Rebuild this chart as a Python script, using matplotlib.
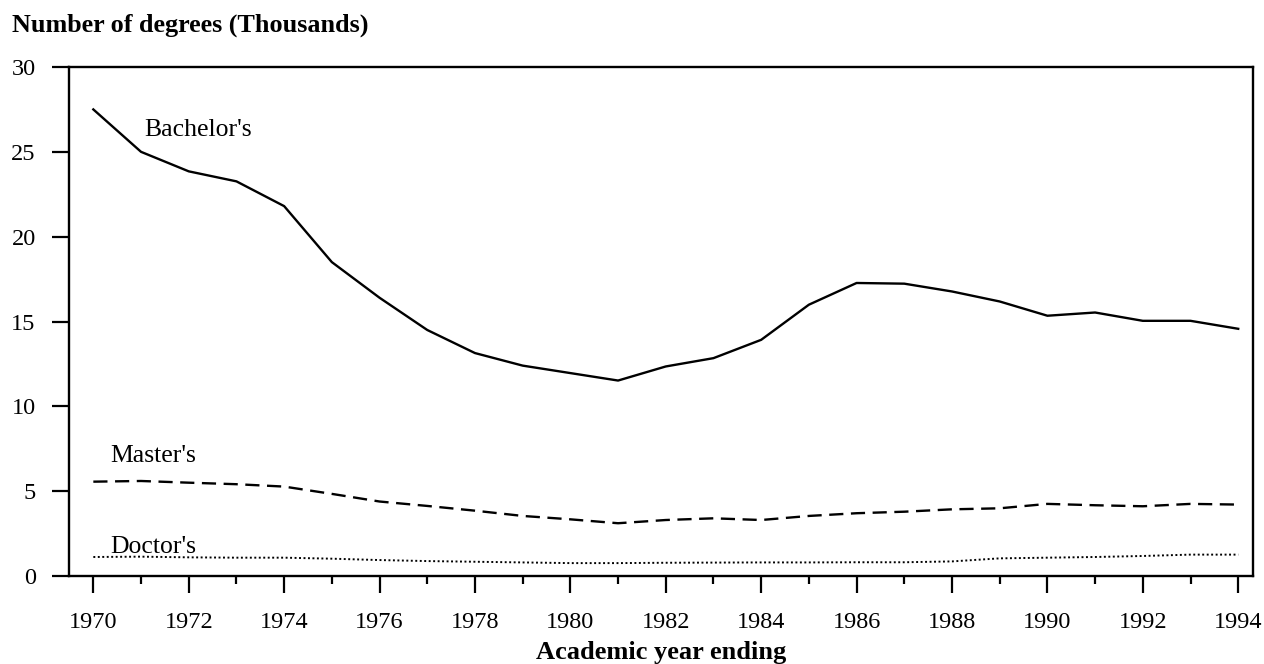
import matplotlib
matplotlib.use("Agg")
import matplotlib.pyplot as plt
from matplotlib.ticker import MultipleLocator

years = list(range(1970, 1995))
bachelors = [27.5, 25.0, 23.85, 23.26, 21.8, 18.5, 16.4, 14.5, 13.14, 12.4, 11.96, 11.52,
             12.35, 12.84, 13.92, 15.99, 17.27, 17.23, 16.77, 16.18, 15.34, 15.53, 15.04, 15.04, 14.57]
masters = [5.56, 5.6, 5.5, 5.41, 5.27, 4.84, 4.39, 4.13, 3.85, 3.54, 3.34, 3.11,
           3.30, 3.40, 3.30, 3.54, 3.70, 3.79, 3.93, 3.99, 4.25, 4.17, 4.11, 4.25, 4.21]
doctors = [1.12, 1.14, 1.1, 1.08, 1.08, 1.02, 0.94, 0.88, 0.84, 0.8, 0.76, 0.76,
           0.78, 0.79, 0.8, 0.8, 0.81, 0.81, 0.86, 1.04, 1.08, 1.12, 1.18, 1.26, 1.26]

series_labels = ["Bachelor's", "Master's", "Doctor's"]
title = "Number of degrees (Thousands)"
xlabel = "Academic year ending"

plt.rcParams['font.family'] = ['Liberation Serif', 'DejaVu Serif']

fig = plt.figure(figsize=(12.64, 6.64), dpi=100)
ax = fig.add_axes([69/1264, 1-576/664, (1253-69)/1264, (576-67)/664])

lw = 1.7
ax.plot(years, bachelors, color='black', lw=lw, solid_joinstyle='round')
ax.plot(years, masters, color='black', lw=lw, linestyle=(0, (6, 3.2)))
ax.plot(years, doctors, color='black', lw=1.4, linestyle=(0, (1, 1.3)))

ax.text(1971.07, 25.92, series_labels[0], fontsize=18.5, va='baseline', ha='left')
ax.text(1970.35, 6.74, series_labels[1], fontsize=18.5, va='baseline', ha='left')
ax.text(1970.35, 1.36, series_labels[2], fontsize=18.5, va='baseline', ha='left')

ax.set_xlim(1969.49, 1994.31)
ax.set_ylim(0, 30)
ax.xaxis.set_major_locator(MultipleLocator(2))
ax.xaxis.set_minor_locator(MultipleLocator(1))
ax.yaxis.set_major_locator(MultipleLocator(5))

for s in ax.spines.values():
    s.set_linewidth(1.7)

ax.tick_params(axis='x', which='major', direction='out', length=12, width=1.6,
               labelsize=17.5, pad=14)
ax.tick_params(axis='x', which='minor', direction='out', length=6, width=1.6)
ax.tick_params(axis='y', which='major', direction='out', length=12, width=1.6,
               labelsize=17.5, pad=12)

ax.set_xlabel(xlabel, fontsize=19, fontweight='bold', labelpad=6)
fig.text(12/1264, 1-25/664, title, fontsize=18.8, fontweight='bold', va='center', ha='left')

fig.savefig("out.png", dpi=100)
